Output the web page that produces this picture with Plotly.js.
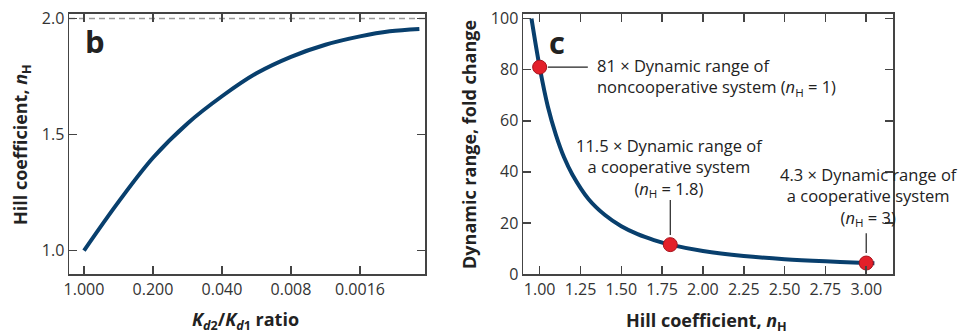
<!DOCTYPE html>
<html>
<head>
<meta charset="utf-8">
<script src="https://cdn.plot.ly/plotly-3.0.1.min.js"></script>
<style>html,body{margin:0;padding:0;background:#fff;}#chart{width:963px;height:335px;}</style>
</head>
<body>
<div id="chart"></div>
<script>
// Panel b: Hill coefficient vs Kd2/Kd1 ratio
const ratioB = [1.0, 0.447, 0.2, 0.0894, 0.04, 0.0179, 0.008, 0.00358, 0.0016, 0.0008, 0.0004];
const hillB  = [1.0, 1.21, 1.40, 1.548, 1.665, 1.764, 1.835, 1.887, 1.923, 1.945, 1.955];
const tickValsB = [1.0, 0.2, 0.04, 0.008, 0.0016];
const tickTextB = ['1.000', '0.200', '0.040', '0.008', '0.0016'];
const maxHill = 2.0;

// Panel c: dynamic range vs Hill coefficient
const hillC  = [0.95, 1.0, 1.05, 1.1, 1.15, 1.2, 1.3, 1.4, 1.5, 1.6, 1.7, 1.8, 2.0, 2.25, 2.5, 2.75, 3.0, 3.05];
const rangeC = [100, 81, 65.6, 54.4, 45.6, 39.0, 29.3, 23.1, 18.7, 15.6, 13.3, 11.5, 9.0, 7.05, 5.8, 4.95, 4.3, 4.2];
const pointHill  = [1.0, 1.8, 3.0];
const pointRange = [81, 11.5, 4.3];
const pointLabels = [
  '81 × Dynamic range of<br>noncooperative system (<i>n</i><sub>H</sub> = 1)',
  '11.5 × Dynamic range of<br>a cooperative system<br>(<i>n</i><sub>H</sub> = 1.8)',
  '4.3 × Dynamic range of<br>a cooperative system<br>(<i>n</i><sub>H</sub> = 3)'
];

const curveColor = '#083f6d';
const axisColor = '#444';
const tickFont = {family: 'Open Sans', size: 16, color: '#333'};
const titleFont = {family: 'Open Sans', size: 18, color: '#222', weight: 'bold'};
const noteFont = {family: 'Open Sans', size: 16.5, color: '#222'};

const traces = [
  {x: ratioB, y: hillB, xaxis: 'x', yaxis: 'y', mode: 'lines', type: 'scatter',
   line: {color: curveColor, width: 4, shape: 'spline', smoothing: 1}, hoverinfo: 'x+y', showlegend: false},
  {x: hillC, y: rangeC, xaxis: 'x2', yaxis: 'y2', mode: 'lines', type: 'scatter',
   line: {color: curveColor, width: 4, shape: 'spline'}, hoverinfo: 'x+y', showlegend: false},
  {x: pointHill, y: pointRange, xaxis: 'x2', yaxis: 'y2', mode: 'markers', type: 'scatter',
   marker: {size: 14, color: '#e3202a', line: {color: '#a8121b', width: 1}}, cliponaxis: false, showlegend: false}
];

const axisCommon = {
  showline: true, linecolor: axisColor, linewidth: 1.5, mirror: 'ticks',
  ticks: 'inside', ticklen: 8, tickwidth: 1.5, tickcolor: axisColor,
  showgrid: false, zeroline: false, tickfont: tickFont, fixedrange: true
};

const yDom = [1 - 274/335, 1 - 13.5/335];

const layout = {
  width: 963, height: 335,
  margin: {l: 0, r: 0, t: 0, b: 0},
  paper_bgcolor: '#fff', plot_bgcolor: '#fff',
  showlegend: false,
  xaxis: Object.assign({}, axisCommon, {
    type: 'log', domain: [69/963, 425/963], range: [0.152, -3.455],
    tickvals: tickValsB, ticktext: tickTextB, anchor: 'y'
  }),
  yaxis: Object.assign({}, axisCommon, {
    domain: yDom, range: [0.899, 2.0216], tickvals: [1.0, 1.5, 2.0], ticktext: ['1.0', '1.5', '2.0'], anchor: 'x'
  }),
  xaxis2: Object.assign({}, axisCommon, {
    domain: [523/963, 893/963], range: [0.898, 3.164],
    tickvals: [1.0, 1.25, 1.5, 1.75, 2.0, 2.25, 2.5, 2.75, 3.0], tickformat: '.2f', anchor: 'y2'
  }),
  yaxis2: Object.assign({}, axisCommon, {
    domain: yDom, range: [0, 102], tickvals: [0, 20, 40, 60, 80, 100], anchor: 'x2'
  }),
  shapes: [
    {type: 'line', xref: 'x domain', yref: 'y', x0: 0, x1: 1, y0: maxHill, y1: maxHill,
     line: {color: '#999', width: 1.3, dash: '6px,4px'}, layer: 'below'},
    {type: 'line', xref: 'x2', yref: 'y2', x0: pointHill[0] + 0.05, x1: pointHill[0] + 0.295, y0: pointRange[0], y1: pointRange[0],
     line: {color: '#222', width: 1.2}},
    {type: 'line', xref: 'x2', yref: 'y2', x0: pointHill[1], x1: pointHill[1], y0: 29, y1: pointRange[1] + 3.8,
     line: {color: '#222', width: 1.2}},
    {type: 'line', xref: 'x2', yref: 'y2', x0: pointHill[2], x1: pointHill[2], y0: 16, y1: pointRange[2] + 3.9,
     line: {color: '#222', width: 1.2}}
  ],
  annotations: [
    {xref: 'paper', yref: 'paper', x: 95/963, y: 1 - 41/335, text: '<b>b</b>', showarrow: false,
     font: {family: 'Open Sans', size: 31, color: '#222'}, xanchor: 'center', yanchor: 'middle'},
    {xref: 'paper', yref: 'paper', x: 557/963, y: 1 - 42/335, text: '<b>c</b>', showarrow: false,
     font: {family: 'Open Sans', size: 31, color: '#222'}, xanchor: 'center', yanchor: 'middle'},
    {xref: 'paper', yref: 'paper', x: 22/963, y: 1 - 145/335, text: '<b>Hill coefficient, <i>n</i><sub>H</sub></b>',
     textangle: -90, showarrow: false, font: titleFont, xanchor: 'center', yanchor: 'middle'},
    {xref: 'paper', yref: 'paper', x: 246/963, y: 1 - 320/335, text: '<b><i>K</i><sub><i>d</i>2</sub>/<i>K</i><sub><i>d</i>1</sub> ratio</b>',
     showarrow: false, font: titleFont, xanchor: 'center', yanchor: 'middle'},
    {xref: 'paper', yref: 'paper', x: 469/963, y: 1 - 145/335, text: '<b>Dynamic range, fold change</b>',
     textangle: -90, showarrow: false, font: titleFont, xanchor: 'center', yanchor: 'middle'},
    {xref: 'paper', yref: 'paper', x: 706/963, y: 1 - 321/335, text: '<b>Hill coefficient, <i>n</i><sub>H</sub></b>',
     showarrow: false, font: titleFont, xanchor: 'center', yanchor: 'middle'},
    {xref: 'x2', yref: 'y2', x: 1.337, y: 77.3, text: pointLabels[0], showarrow: false, align: 'left',
     xanchor: 'left', yanchor: 'middle', font: noteFont},
    {xref: 'x2', yref: 'y2', x: 1.797, y: 41.6, text: pointLabels[1], showarrow: false, align: 'center',
     xanchor: 'center', yanchor: 'middle', font: noteFont},
    {xref: 'x2', yref: 'y2', x: 3.02, y: 30.2, text: pointLabels[2], showarrow: false, align: 'center',
     xanchor: 'center', yanchor: 'middle', font: noteFont}
  ]
};

Plotly.newPlot('chart', traces, layout, {displayModeBar: false, staticPlot: true});
</script>
</body>
</html>
